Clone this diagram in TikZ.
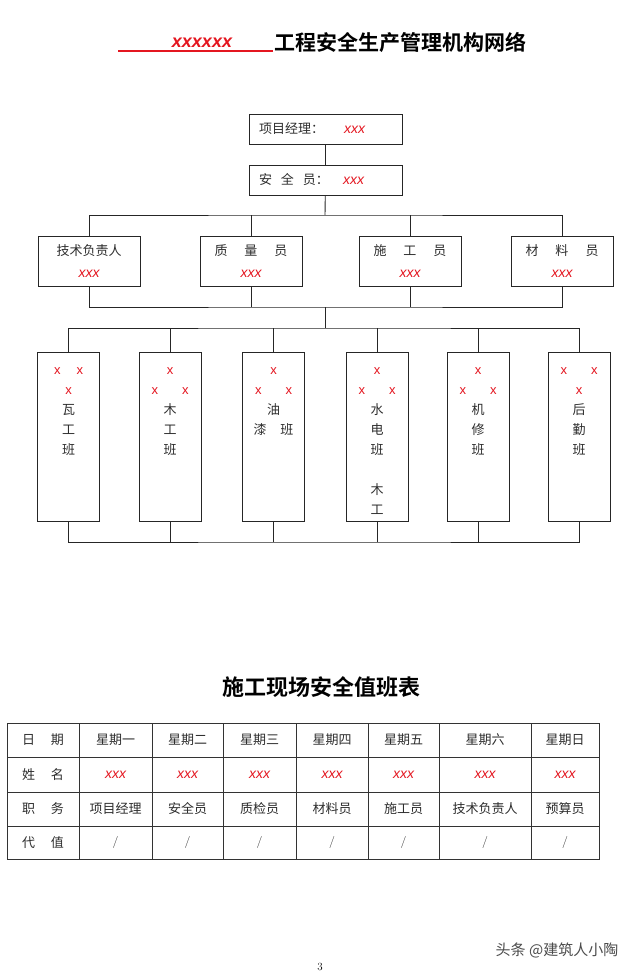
\documentclass[tikz,border=0pt]{standalone}
\usepackage{fontspec}
\usepackage{xcolor}
\usepackage{tikz}
\usetikzlibrary{positioning}
\newfontfamily\cjk[BoldFont={Noto Sans CJK SC Bold}]{Noto Sans CJK SC}
\newfontfamily\latn{Liberation Sans}
\definecolor{xred}{RGB}{228,22,32}
\definecolor{ink}{RGB}{45,45,45}
\newcommand{\xxx}{{\latn\itshape\fontsize{14}{16}\selectfont\color{xred}xxx}}
\newcommand{\rx}{{\latn\fontsize{13}{16}\selectfont\color{xred}x}}

\begin{document}
\begin{tikzpicture}[
  x=1pt, y=-1pt,
  every node/.style = {font=\cjk\fontsize{13}{16}\selectfont, text=ink},
  head/.style    = {rectangle, draw=black!85, line width=0.9pt,
                    text width=133pt, inner xsep=10pt, minimum height=30pt,
                    align=left},
  post/.style    = {rectangle, draw=black!85, line width=0.9pt,
                    minimum width=102pt, minimum height=50pt, align=center,
                    font=\cjk\fontsize{13}{22}\selectfont},
  crew/.style    = {rectangle, draw=black!85, line width=0.9pt,
                    minimum width=62pt, minimum height=169pt},
  crewtxt/.style = {align=center, inner sep=0pt,
                    font=\cjk\fontsize{13}{20}\selectfont},
  link/.style    = {line width=0.9pt, black!85},
  grid/.style    = {line width=0.8pt, black!80},
  cell/.style    = {inner sep=1pt},
]
\fill[white] (0,0) rectangle (640,980);
\useasboundingbox (0,0) rectangle (640,980);
% Title
\node[font=\latn\bfseries\itshape\fontsize{18}{20}\selectfont, text=xred] (tx) at (202,43) {xxxxxx};
\draw[xred, line width=1.2pt] (118,51) -- (273,51);
\node[font=\cjk\bfseries\fontsize{21}{24}\selectfont, text=black] (title) at (400,43) {工程安全生产管理机构网络};
% Row 1: manager and safety officer
\node[head] (pm)   at (325.5,129) {项目经理：\hspace{20pt}\xxx};
\node[head] (safe) at (325.5,180) {安\hspace{9pt}全\hspace{9pt}员：\hspace{14pt}\xxx};
% Row 2: staff
\node[post] (tech) at (89,261)  {技术负责人\\\xxx};
\node[post] (qual) at (251,261) {质\hspace{17pt}量\hspace{17pt}员\\\xxx};
\node[post] (cons) at (410,261) {施\hspace{17pt}工\hspace{17pt}员\\\xxx};
\node[post] (matl) at (562,261) {材\hspace{17pt}料\hspace{17pt}员\\\xxx};
% Row 3: crews
\foreach \n/\cx/\txt in {
  1/68.5/{\rx\hspace{16pt}\rx\\\rx\\瓦\\工\\班},
  2/170/{\rx\\\rx\hspace{24pt}\rx\\木\\工\\班},
  3/273.5/{\rx\\\rx\hspace{24pt}\rx\\油\\漆\hspace{14pt}班},
  4/377/{\rx\\\rx\hspace{24pt}\rx\\水\\电\\班\\[20pt]木\\工},
  5/478/{\rx\\\rx\hspace{24pt}\rx\\机\\修\\班},
  6/579/{\rx\hspace{24pt}\rx\\\rx\\后\\勤\\班}} {
  \node[crew] (b\n) at (\cx,436.5) {};
  \node[crewtxt, below=16pt of b\n.north] (bt\n) {\txt};
}
% Connectors
\coordinate (bus1) at (325,215);
\coordinate (bus2) at (325,307);
\coordinate (bus3) at (325,328);
\coordinate (bus4) at (325,542);
\draw[link] (pm) -- (safe);
\draw[link] (safe) -- (bus1);
\draw[link] (tech.north) |- (bus1) -| (matl.north);
\draw[link] (qual.north) -- (qual.north |- bus1);
\draw[link] (cons.north) -- (cons.north |- bus1);
\draw[link] (tech.south) |- (bus2) -| (matl.south);
\draw[link] (qual.south) -- (qual.south |- bus2);
\draw[link] (cons.south) -- (cons.south |- bus2);
\draw[link] (bus2) -- (bus3);
\draw[link] (b1.north) |- (bus3) -| (b6.north);
\draw[link] (b1.south) |- (bus4) -| (b6.south);
\foreach \n in {2,...,5} {
  \draw[link] (b\n.north) -- (b\n.north |- bus3);
  \draw[link] (b\n.south) -- (b\n.south |- bus4);
}
% Duty table
\node[font=\cjk\bfseries\fontsize{22}{24}\selectfont, text=black] (ttitle) at (321,687) {施工现场安全值班表};
\draw[grid] (7,723) rectangle (599,859);
\foreach \y in {757,792,826} \draw[grid] (7,\y) -- (599,\y);
\foreach \x in {79,152,223,296,368,439,531} \draw[grid] (\x,723) -- (\x,859);
\node[cell] (h1) at (43,740)   {日\hspace{16pt}期};
\node[cell] (h2) at (43,774.5) {姓\hspace{16pt}名};
\node[cell] (h3) at (43,809)   {职\hspace{16pt}务};
\node[cell] (h4) at (43,842.5) {代\hspace{16pt}值};
\foreach \c/\cx/\d/\p in {1/115.5/一/项目经理, 2/187.5/二/安全员, 3/259.5/三/质检员,
    4/332/四/材料员, 5/403.5/五/施工员, 6/485/六/技术负责人, 7/565/日/预算员} {
  \node[cell] (day\c)  at (\cx,740)   {星期\d};
  \node[cell] (name\c) at (\cx,774.5) {\xxx};
  \node[cell] (duty\c) at (\cx,809)   {\p};
  \node[cell, font=\rmfamily\fontsize{12}{14}\selectfont] (sub\c) at (\cx,842.5) {/};
}
% Footer
\node[font=\rmfamily\fontsize{11}{12}\selectfont, text=black] (page) at (320,967) {3};
\node[font=\cjk\fontsize{15}{16}\selectfont, text=black!70] (wm) at (557,950) {头条 @建筑人小陶};
\end{tikzpicture}
\end{document}
